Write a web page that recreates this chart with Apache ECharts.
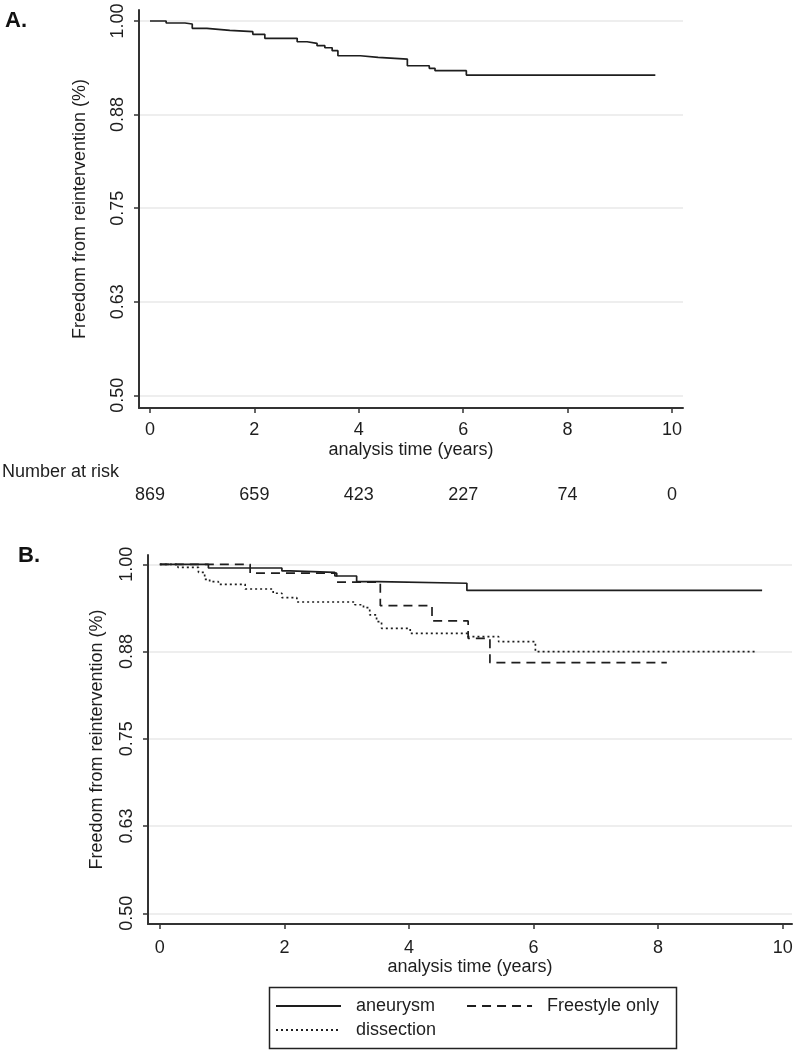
<!DOCTYPE html>
<html>
<head>
<meta charset="utf-8">
<script src="https://cdn.jsdelivr.net/npm/echarts@6/dist/echarts.min.js"></script>
<style>
  html, body { margin: 0; padding: 0; background: #fff; }
  #km { width: 797px; height: 1050px; }
</style>
</head>
<body>
<div id="km"></div>
<script>
var xTicks = [0, 2, 4, 6, 8, 10];
var yTicks = [0.5, 0.625, 0.75, 0.875, 1.0];
var numberAtRisk = [869, 659, 423, 227, 74, 0];

// panel A - all patients
var overallKM = [[0,1],[0.31,0.9973],[0.67,0.996],[0.81,0.9902],[1.09,0.9876],[1.53,0.9857],[1.97,0.9822],
  [2.20,0.9769],[2.82,0.9723],[3.01,0.9702],[3.20,0.9670],[3.35,0.9643],[3.49,0.9603],[3.60,0.9536],
  [4.03,0.9515],[4.37,0.9492],[4.93,0.9402],[5.35,0.9368],[5.46,0.9336],[6.06,0.9278],[9.68,0.9278]];

// panel B - by group
var aneurysmKM = [[0,1],[0.78,0.9947],[1.96,0.9905],[2.09,0.9885],[2.81,0.9832],[3.16,0.9751],
  [3.51,0.9728],[4.93,0.9625],[9.67,0.9625]];
var freestyleKM = [[0,1],[1.45,0.9873],[2.84,0.9745],[3.54,0.9407],[4.37,0.9188],[4.95,0.8940],
  [5.30,0.8590],[8.14,0.8590]];
var dissectionKM = [[0,1],[0.29,0.9957],[0.62,0.9885],[0.72,0.9785],[0.80,0.9751],[0.94,0.9713],
  [1.37,0.9646],[1.82,0.9585],[1.96,0.9521],[2.20,0.9460],[3.13,0.9420],[3.27,0.9378],[3.37,0.9274],
  [3.48,0.9178],[3.56,0.9083],[4.02,0.9011],[4.95,0.8963],[5.44,0.8891],[6.03,0.875],[9.59,0.875]];

var FONT = '"Liberation Sans", Arial, sans-serif';
var INK = '#1e1e1e';

function xAx(idx, min, max, gap, margin) {
  return {
    type: 'value', gridIndex: idx, min: min, max: max,
    name: 'analysis time (years)', nameLocation: 'middle', nameGap: gap,
    nameTextStyle: { fontFamily: FONT, fontSize: 18, color: INK },
    axisLine: { onZero: false, lineStyle: { color: '#333', width: 2 } },
    axisTick: { show: true, customValues: xTicks, length: 5, lineStyle: { color: '#333', width: 1.5 } },
    axisLabel: { customValues: xTicks, margin: margin, fontFamily: FONT, fontSize: 18, color: INK },
    splitLine: { show: false }
  };
}
function yAx(idx, min, max, gap) {
  return {
    type: 'value', gridIndex: idx, min: min, max: max,
    name: 'Freedom from reintervention (%)', nameLocation: 'middle', nameGap: gap,
    nameTextStyle: { fontFamily: FONT, fontSize: 18, color: INK },
    axisLine: { show: true, onZero: false, lineStyle: { color: '#333', width: 2 } },
    axisTick: { show: true, customValues: yTicks, length: 5, lineStyle: { color: '#333', width: 1.5 } },
    axisLabel: { customValues: yTicks, rotate: 90, margin: 12, fontFamily: FONT, fontSize: 18, color: INK,
      formatter: function (v) { return v.toFixed(2); } },
    splitLine: { show: true, lineStyle: { color: '#e8e8e8', width: 1.5 } }
  };
}
function km(name, data, xi, type) {
  return {
    name: name, type: 'line', step: 'end', xAxisIndex: xi, yAxisIndex: xi,
    data: data, symbol: 'none', silent: true, animation: false,
    lineStyle: { color: INK, width: 1.7, type: type },
    itemStyle: { color: INK }
  };
}

var legendBase = {
  left: 275, padding: 0, itemWidth: 65, itemHeight: 14, itemGap: 31, selectedMode: false,
  itemStyle: { opacity: 0 },
  textStyle: { fontFamily: FONT, fontSize: 18, color: INK, lineHeight: 20, padding: [0, 0, 0, 10] }
};

var myChart = echarts.init(document.getElementById('km'), null, { renderer: 'canvas' });
var option = {
  backgroundColor: '#fff',
  animation: false,
  grid: [
    { left: 139, top: 10, width: 544, height: 398, outerBoundsMode: 'none' },
    { left: 139, top: 482, width: 544, height: 1, outerBoundsMode: 'none' },
    { left: 148, top: 555, width: 644, height: 369, outerBoundsMode: 'none' }
  ],
  xAxis: [
    xAx(0, -0.21, 10.21, 33, 13),
    {
      type: 'value', gridIndex: 1, min: -0.21, max: 10.21,
      axisLine: { show: false }, axisTick: { show: false }, splitLine: { show: false },
      axisLabel: { customValues: xTicks, margin: 3, fontFamily: FONT, fontSize: 18, color: INK,
        formatter: function (v) { return numberAtRisk[xTicks.indexOf(v)]; } }
    },
    xAx(2, -0.19, 10.15, 33, 15)
  ],
  yAxis: [
    yAx(0, 0.483, 1.0147, 50),
    { type: 'value', gridIndex: 1, show: false, min: 0, max: 1 },
    yAx(2, 0.4847, 1.0133, 42)
  ],
  legend: [
    echarts.util.merge({ data: ['aneurysm', 'Freestyle only'], top: 996 }, legendBase),
    echarts.util.merge({ data: ['dissection'], top: 1020 }, legendBase)
  ],
  graphic: [
    { type: 'text', left: 5, top: 10, style: { text: 'A.', font: 'bold 22px ' + FONT, fill: '#111' } },
    { type: 'text', left: 18, top: 545, style: { text: 'B.', font: 'bold 22px ' + FONT, fill: '#111' } },
    { type: 'text', left: 2, top: 463, style: { text: 'Number at risk', font: '18px ' + FONT, fill: INK } },
    { type: 'rect', left: 267, top: 985, shape: { width: 407, height: 61 },
      style: { fill: 'none', stroke: '#222', lineWidth: 1.5 } }
  ],
  series: [
    km('overall', overallKM, 0, 'solid'),
    km('aneurysm', aneurysmKM, 2, 'solid'),
    km('Freestyle only', freestyleKM, 2, [9, 6]),
    km('dissection', dissectionKM, 2, [2, 3])
  ]
};
myChart.setOption(option);
</script>
</body>
</html>
